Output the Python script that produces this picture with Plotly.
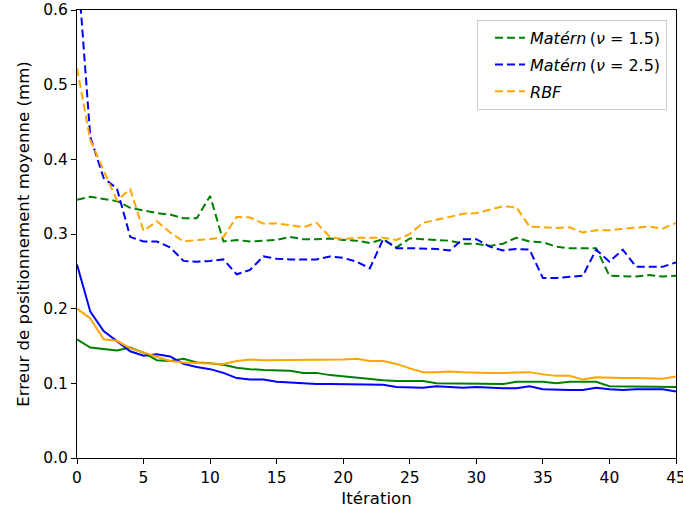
import plotly.graph_objects as go

iterations = list(range(46))

matern15_dashed = [0.346, 0.350, 0.347, 0.344, 0.335, 0.331, 0.328, 0.326, 0.321, 0.321,
                   0.351, 0.290, 0.292, 0.290, 0.291, 0.292, 0.296, 0.293, 0.293, 0.294,
                   0.292, 0.291, 0.288, 0.293, 0.282, 0.294, 0.293, 0.292, 0.291, 0.287,
                   0.287, 0.284, 0.287, 0.295, 0.290, 0.289, 0.283, 0.281, 0.281, 0.281,
                   0.244, 0.243, 0.243, 0.245, 0.243, 0.244]
matern25_dashed = [0.670, 0.430, 0.375, 0.361, 0.296, 0.290, 0.290, 0.282, 0.264, 0.263,
                   0.264, 0.266, 0.246, 0.252, 0.270, 0.267, 0.266, 0.266, 0.266, 0.270,
                   0.268, 0.263, 0.254, 0.293, 0.281, 0.281, 0.281, 0.280, 0.278, 0.293,
                   0.293, 0.283, 0.278, 0.280, 0.279, 0.241, 0.241, 0.243, 0.244, 0.279,
                   0.263, 0.279, 0.256, 0.256, 0.256, 0.262]
rbf_dashed = [0.522, 0.426, 0.385, 0.345, 0.360, 0.304, 0.317, 0.302, 0.290, 0.292,
              0.293, 0.296, 0.323, 0.322, 0.314, 0.314, 0.312, 0.309, 0.315, 0.296,
              0.293, 0.295, 0.295, 0.295, 0.292, 0.300, 0.315, 0.319, 0.323, 0.327,
              0.328, 0.333, 0.337, 0.336, 0.310, 0.309, 0.308, 0.309, 0.302, 0.305,
              0.305, 0.307, 0.309, 0.310, 0.307, 0.315]

matern15_solid = [0.159, 0.148, 0.146, 0.144, 0.148, 0.141, 0.131, 0.130, 0.133, 0.128,
                  0.127, 0.125, 0.121, 0.119, 0.118, 0.118, 0.117, 0.114, 0.114, 0.111,
                  0.109, 0.108, 0.106, 0.104, 0.103, 0.103, 0.103, 0.100, 0.100, 0.100,
                  0.099, 0.099, 0.099, 0.102, 0.102, 0.102, 0.100, 0.102, 0.102, 0.102,
                  0.096, 0.096, 0.096, 0.096, 0.096, 0.095]
matern25_solid = [0.259, 0.196, 0.170, 0.156, 0.143, 0.137, 0.139, 0.136, 0.126, 0.122,
                  0.119, 0.114, 0.107, 0.105, 0.105, 0.102, 0.101, 0.099, 0.099, 0.099,
                  0.099, 0.098, 0.098, 0.098, 0.095, 0.094, 0.094, 0.096, 0.095, 0.094,
                  0.095, 0.094, 0.0935, 0.0935, 0.096, 0.092, 0.091, 0.091, 0.091, 0.094,
                  0.092, 0.091, 0.092, 0.092, 0.092, 0.089]
rbf_solid = [0.200, 0.187, 0.159, 0.157, 0.147, 0.141, 0.135, 0.130, 0.128, 0.127,
             0.126, 0.126, 0.130, 0.132, 0.131, 0.131, 0.132, 0.132, 0.132, 0.132,
             0.132, 0.133, 0.130, 0.130, 0.126, 0.120, 0.115, 0.115, 0.116, 0.115,
             0.114, 0.114, 0.114, 0.114, 0.115, 0.112, 0.110, 0.110, 0.105, 0.108,
             0.107, 0.107, 0.107, 0.107, 0.106, 0.109]

labels = ["<i>Matérn</i>\u2009(<i>ν</i> = 1.5)", "<i>Matérn</i>\u2009(<i>ν</i> = 2.5)", "<i>RBF</i>"]
colors = ["green", "blue", "orange"]
dashed = [matern15_dashed, matern25_dashed, rbf_dashed]
solid = [matern15_solid, matern25_solid, rbf_solid]

fig = go.Figure()
for k, (lab, col, ys) in enumerate(zip(labels, colors, dashed)):
    fig.add_trace(go.Scatter(x=iterations, y=ys, mode="lines", name=lab, legendgroup=f"g{k}",
                             line=dict(color=col, width=2, dash="8px,4px")))
for lab, col, ys in zip(labels, colors, solid):
    fig.add_trace(go.Scatter(x=iterations, y=ys, mode="lines", showlegend=False,
                             line=dict(color=col, width=2)))

axis_common = dict(showline=True, linecolor="black", linewidth=1, mirror=True,
                   ticks="outside", ticklen=5, tickcolor="black", showgrid=False,
                   zeroline=False, automargin=False, ticklabeloverflow="allow",
                   tickfont=dict(size=15.5, color="black"))
fig.update_xaxes(range=[0, 45], tickvals=list(range(0, 46, 5)),
                 title=dict(text="Itération", font=dict(size=16.6, color="black"), standoff=6),
                 **axis_common)
fig.update_yaxes(range=[0, 0.6], tickvals=[0, 0.1, 0.2, 0.3, 0.4, 0.5, 0.6], tickformat=".1f",
                 title=dict(text="Erreur de positionnement moyenne (mm)", font=dict(size=16.6, color="black"), standoff=9),
                 **axis_common)
fig.update_layout(
    width=683, height=509,
    margin=dict(l=77, r=7, t=10, b=51, autoexpand=False),
    plot_bgcolor="white", paper_bgcolor="white",
    font=dict(family="DejaVu Sans", size=15, color="black"),
    legend=dict(x=0.985, y=0.978, xanchor="right", yanchor="top",
                bgcolor="rgba(255,255,255,0.8)", bordercolor="#cccccc", borderwidth=1,
                font=dict(size=16), tracegroupgap=3, itemwidth=30, indentation=12),
)
fig.write_html("out.html", config={"displayModeBar": False},
               post_script="document.body.style.margin='0';")
